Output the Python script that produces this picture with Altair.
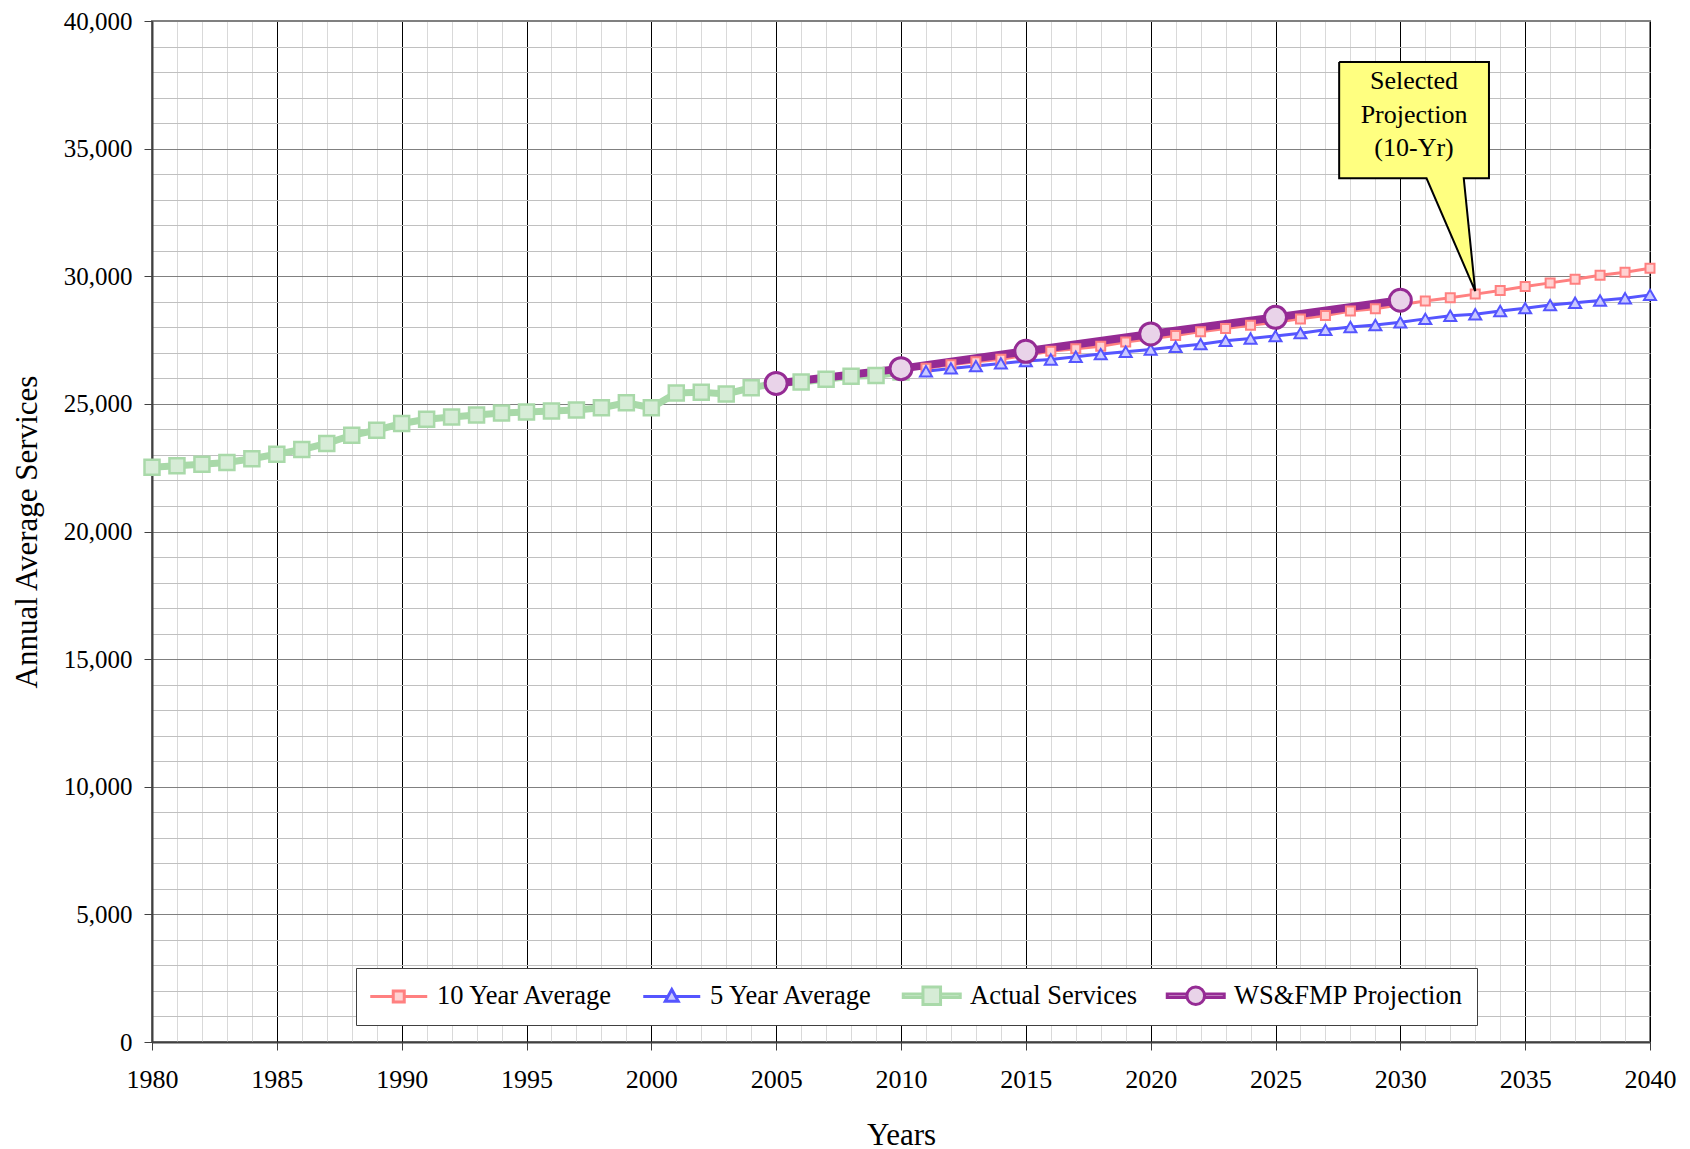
import altair as alt
import pandas as pd

# ---------------- data ----------------
actual_years = list(range(1980, 2011))
actual_services = [22520, 22580, 22630, 22700, 22850, 23030, 23210, 23450, 23770, 23970,
                   24230, 24400, 24490, 24560, 24640, 24680, 24720, 24760, 24850, 25040,
                   24850, 25430, 25460, 25390, 25630, 25800, 25860, 25960, 26080, 26110,
                   26250]

proj_years = list(range(2011, 2041))
ten_year_avg = [26400, 26530, 26650, 26750, 26900, 27060, 27160, 27260, 27420, 27550,
                27680, 27830, 27950, 28080, 28200, 28330, 28460, 28640, 28730, 28880,
                29030, 29160, 29300, 29440, 29600, 29740, 29880, 30040, 30160, 30310]
five_year_avg = [26280, 26390, 26480, 26585, 26680, 26740, 26845, 26950, 27040, 27130,
                 27235, 27340, 27470, 27560, 27660, 27770, 27900, 28010, 28090, 28200,
                 28330, 28450, 28510, 28640, 28750, 28870, 28960, 29050, 29140, 29270]

ws_years = [2005, 2010, 2015, 2020, 2025, 2030]
ws_projection = [25800, 26380, 27060, 27740, 28390, 29060]

series_names = ["10 Year Average", "5 Year Average", "Actual Services", "WS&FMP Projection"]

# callout annotation (data units)
callout_lines = ["Selected", "Projection", "(10-Yr)"]
callout_line_values = [37341, 36012, 34721]
callout_center_year = 2030.55
callout_box_years = [2027.55, 2033.55]
callout_box_values = [38397, 33835]
pointer_base_years = [2031.05, 2032.54]
pointer_tip = (2033, 29420)

# ---------------- styles ----------------
line_colors = ["#FF8080", "#5555FF", "#A9D9A9", "#952B94"]
fill_colors = ["#FFD2D2", "#C9C9FF", "#D6ECD6", "#E9D3E9"]
legend_paths = [
    "M-2.59,0H-0.5M0.5,0H2.59M-0.5,-0.5H0.5V0.5H-0.5Z",
    "M-2.59,0H-0.34M0.34,0H2.59M0,-0.62L0.59,0.45H-0.59Z",
    "M-2.59,-0.16H-0.8V0.16H-2.59ZM0.8,-0.16H2.59V0.16H0.8ZM-0.8,-0.8H0.8V0.8H-0.8Z",
    "M-2.59,-0.16H-0.8V0.16H-2.59ZM0.8,-0.16H2.59V0.16H0.8Z"
    "M-0.8,0A0.8,0.8,0,1,0,0.8,0A0.8,0.8,0,1,0,-0.8,0Z",
]
SERIF = "Liberation Serif"

x_axis = alt.Axis(
    values=list(range(1980, 2041)),
    labelExpr="datum.value % 5 === 0 ? datum.label : ''",
    format="d",
    grid=True,
    gridColor={"condition": {"test": "datum.value % 5 === 0", "value": "#000000"}, "value": "#d9d9d9"},
    gridWidth=1,
    tickColor={"condition": {"test": "datum.value % 5 === 0", "value": "#404040"}, "value": "transparent"},
    tickSize=8,
    domainColor="#404040",
    domainWidth=2,
    labelFont=SERIF, labelFontSize=26, labelColor="black", labelPadding=16,
    labelFlush=False, labelOverlap=False,
    titleFont=SERIF, titleFontSize=31, titleFontWeight="normal", titleColor="black",
    titleY=102, titleBaseline="alphabetic",
)
y_axis = alt.Axis(
    values=list(range(0, 40001, 1000)),
    labelExpr="datum.value % 5000 === 0 ? datum.label : ''",
    format=",d",
    grid=True,
    gridColor={"condition": {"test": "datum.value % 5000 === 0", "value": "#808080"}, "value": "#c0c0c0"},
    gridWidth=1,
    tickColor={"condition": {"test": "datum.value % 5000 === 0", "value": "#404040"}, "value": "transparent"},
    tickSize=8,
    domainColor="#404040",
    domainWidth=2,
    labelFont=SERIF, labelFontSize=25, labelColor="black", labelPadding=12,
    labelFlush=False, labelOverlap=False,
    titleFont=SERIF, titleFontSize=31, titleFontWeight="normal", titleColor="black",
    titleX=-125, titleBaseline="middle",
)


def X(field="year"):
    return alt.X(f"{field}:Q", scale=alt.Scale(domain=[1980, 2040], nice=False, zero=False),
                 axis=x_axis, title="Years")


def Y(field="value"):
    return alt.Y(f"{field}:Q", scale=alt.Scale(domain=[0, 40000], nice=False, zero=True),
                 axis=y_axis, title="Annual Average Services")


df10 = pd.DataFrame({"year": proj_years, "value": ten_year_avg})
df5 = pd.DataFrame({"year": proj_years, "value": five_year_avg})
dfa = pd.DataFrame({"year": actual_years, "value": actual_services})
dfw = pd.DataFrame({"year": ws_years, "value": ws_projection})

line_widths = [3, 3, 7, 8]
dfs = [df10, df5, dfa, dfw]

lines = [
    alt.Chart(d).mark_line(color=c, strokeWidth=w).encode(x=X(), y=Y())
    for d, c, w in zip(dfs, line_colors, line_widths)
]

marker_specs = [
    dict(shape="square", size=81, strokeWidth=2),
    dict(shape="triangle-up", size=144, strokeWidth=2),
    dict(shape="square", size=225, strokeWidth=2.5),
    dict(shape="circle", size=484, strokeWidth=3),
]
points = [
    alt.Chart(d).mark_point(filled=True, opacity=1, fill=f, stroke=c, **spec).encode(x=X(), y=Y())
    for d, f, c, spec in zip(dfs, fill_colors, line_colors, marker_specs)
]

# ---------------- callout ----------------
box_df = pd.DataFrame({"year": [callout_box_years[0]], "year2": [callout_box_years[1]],
                       "value": [callout_box_values[0]], "value2": [callout_box_values[1]]})
box = alt.Chart(box_df).mark_rect(color="#FFFF80", opacity=1).encode(
    x=X(), x2=alt.X2("year2"), y=Y(), y2=alt.Y2("value2"))

bx0, bx1 = pointer_base_years
tx, ty = pointer_tip
by = callout_box_values[1]
mid_val = by - (bx1 - bx0) / (tx - bx0) * (by - ty)
area_df = pd.DataFrame({"year": [bx0, bx1, tx], "value": [by + 100, mid_val, ty],
                        "value2": [by + 100, by + 100, ty]})
pointer = alt.Chart(area_df).mark_area(color="#FFFF80", opacity=1).encode(
    x=X(), y=Y(), y2=alt.Y2("value2"))

(x0, x1), (y0, y1) = callout_box_years, callout_box_values
outline_df = pd.DataFrame({
    "year": [x0, x1, x1, bx1, tx, bx0, x0, x0],
    "value": [y0, y0, y1, y1, ty, y1, y1, y0],
    "i": list(range(8)),
})
outline = alt.Chart(outline_df).mark_line(color="black", strokeWidth=2, strokeJoin="miter").encode(
    x=X(), y=Y(), order="i:O")

text_df = pd.DataFrame({"year": [callout_center_year] * 3, "value": callout_line_values,
                        "line": callout_lines})
callout_text = alt.Chart(text_df).mark_text(font=SERIF, fontSize=26, align="center",
                                            baseline="alphabetic", color="black").encode(
    x=X(), y=Y(), text="line:N")

# ---------------- legend (native, via an empty layer) ----------------
leg = alt.Legend(
    title=None, orient="none", legendX=204, legendY=947, direction="horizontal", columns=4,
    fillColor="white", strokeColor="#404040", padding=14,
    symbolSize=484, symbolStrokeWidth=3, symbolOffset=15.5, labelOffset=25, columnPadding=23,
    labelFont=SERIF, labelFontSize=26.5, labelColor="black", labelLimit=400,
)
legend_df = pd.DataFrame({"series": series_names})
legend_layer = alt.Chart(legend_df).transform_filter("false").mark_point(
    filled=True, opacity=1, size=484).encode(
    fill=alt.Fill("series:N", scale=alt.Scale(domain=series_names, range=fill_colors), legend=leg),
    stroke=alt.Stroke("series:N", scale=alt.Scale(domain=series_names, range=line_colors), legend=leg),
    shape=alt.Shape("series:N", scale=alt.Scale(domain=series_names, range=legend_paths), legend=leg),
)

chart = alt.layer(
    *lines, *points, box, pointer, outline, callout_text, legend_layer
).properties(
    width=1498, height=1021,
    padding={"left": 144, "top": 13, "right": 30, "bottom": 110},
    autosize=alt.AutoSizeParams(type="none"),
    background="white",
).configure_view(stroke="#808080", strokeWidth=2)

chart.save("out.html", embed_options={"renderer": "svg", "actions": False})
